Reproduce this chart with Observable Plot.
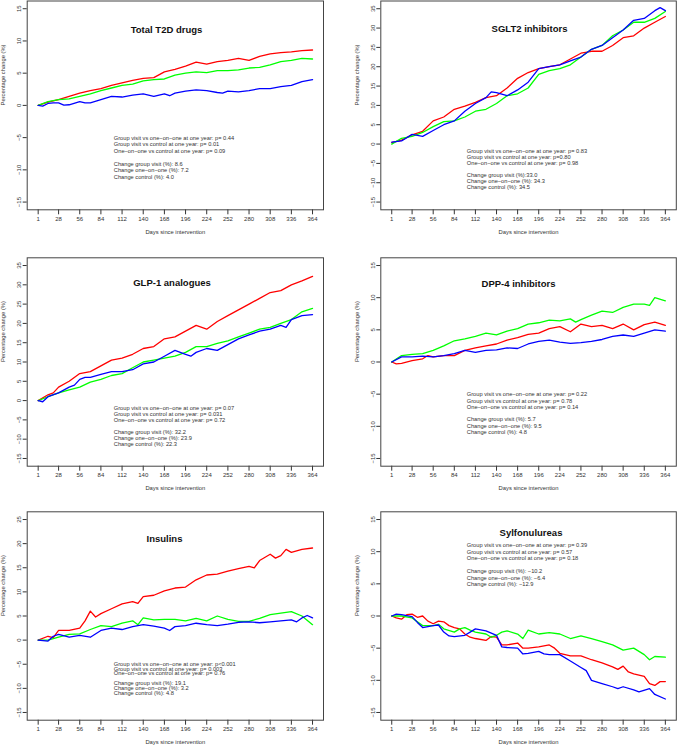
<!DOCTYPE html>
<html><head><meta charset="utf-8">
<script src="https://cdn.jsdelivr.net/npm/d3@7"></script>
<script src="https://cdn.jsdelivr.net/npm/@observablehq/plot@0.6"></script>
<style>
body{margin:0;background:#fff;}
#root{position:relative;width:677px;height:748px;overflow:hidden;background:#fff;font-family:"Liberation Sans",Arial,sans-serif;}
.cell{position:absolute;}
</style></head><body><div id="root"></div>
<script>
const xTicks = [1,28,56,84,112,140,168,196,224,252,280,308,336,364];
const groups = ["Group visit","One-on-one","Control"];
const colors = ["#FF0000","#00FF00","#0000FF"];

// Total T2D drugs
const t2dGroup = [[1,0],[14,0.5],[28,0.9],[42,1.4],[56,1.9],[70,2.3],[84,2.6],[98,3.1],[112,3.5],[126,3.9],[140,4.2],[154,4.3],[168,5.2],[182,5.6],[196,6.1],[210,6.7],[224,6.4],[238,6.8],[252,7.0],[266,7.3],[280,7.0],[294,7.6],[308,8.0],[322,8.2],[336,8.3],[350,8.5],[364,8.6]];
const t2dOne = [[1,0],[14,0.6],[28,0.9],[42,1.0],[56,1.4],[70,1.8],[84,2.3],[98,2.7],[112,3.1],[126,3.3],[140,3.8],[154,4.0],[168,4.1],[182,4.7],[196,5.0],[210,5.2],[224,5.1],[238,5.4],[252,5.4],[266,5.5],[280,5.8],[294,5.9],[308,6.3],[322,6.8],[336,7.0],[350,7.3],[364,7.2]];
const t2dCtrl = [[1,0],[7,-0.1],[14,0.3],[21,0.4],[28,0.4],[35,0.05],[42,0.1],[56,0.6],[63,0.4],[70,0.4],[84,0.9],[98,1.4],[112,1.3],[126,1.6],[140,1.8],[154,1.4],[168,1.8],[175,1.5],[182,1.9],[196,2.2],[210,2.4],[224,2.3],[238,2.0],[245,1.9],[252,2.2],[266,2.1],[280,2.3],[294,2.6],[308,2.6],[322,2.9],[336,3.1],[350,3.7],[364,4.0]];

// SGLT2 inhibitors
const sgltGroup = [[1,0.4],[14,1.0],[28,2.4],[42,3.3],[56,6.0],[70,7.0],[84,9.0],[98,9.8],[112,10.8],[126,12.0],[140,12.5],[154,14.5],[168,17.0],[182,18.5],[196,19.5],[210,20.0],[224,20.5],[238,22.0],[252,23.5],[266,24.0],[280,24.0],[294,25.5],[308,27.5],[322,28.0],[336,30.0],[350,31.5],[364,33.0]];
const sgltOne = [[1,0.0],[14,1.5],[28,2.0],[42,3.0],[56,4.5],[70,5.8],[84,6.0],[98,7.0],[112,8.5],[126,9.0],[140,10.5],[154,12.5],[168,13.0],[182,14.5],[196,18.0],[210,19.0],[224,19.5],[238,20.5],[252,22.5],[266,24.5],[280,25.5],[294,28.0],[308,29.5],[322,31.5],[336,31.5],[350,32.5],[364,34.3]];
const sgltCtrl = [[1,0.5],[14,0.8],[28,2.5],[42,2.0],[56,3.5],[70,5.0],[84,6.0],[98,8.5],[112,10.5],[126,12.0],[133,13.5],[140,13.3],[154,12.5],[168,14.0],[182,16.0],[196,19.5],[210,20.0],[224,20.5],[238,21.5],[252,22.5],[266,24.5],[280,25.5],[294,27.5],[308,29.5],[322,32.0],[336,32.5],[350,34.5],[357,35.3],[364,34.5]];

// GLP-1 analogues
const glpGroup = [[1,0],[14,1.5],[21,2.0],[28,3.5],[42,5.0],[56,7.0],[70,7.5],[84,9.0],[98,10.5],[112,11.0],[126,12.0],[140,13.5],[154,14.0],[168,16.0],[182,16.5],[196,18.0],[210,19.5],[224,18.5],[238,20.5],[252,22.0],[266,23.5],[280,25.0],[294,26.5],[308,28.0],[322,28.5],[336,30.0],[350,31.0],[364,32.2]];
const glpOne = [[1,0],[14,1.0],[28,2.0],[42,2.8],[56,3.5],[70,4.8],[84,5.5],[98,6.5],[112,7.0],[126,8.5],[140,10.0],[154,10.5],[168,11.0],[182,11.5],[196,12.5],[210,14.0],[224,14.0],[238,14.8],[252,15.5],[266,16.5],[280,17.5],[294,18.5],[308,19.0],[322,20.0],[336,21.0],[350,23.0],[364,23.9]];
const glpCtrl = [[1,0],[7,-0.3],[14,1.0],[28,2.0],[42,3.5],[49,4.0],[56,5.5],[63,6.0],[70,6.0],[84,6.8],[98,7.5],[112,7.5],[126,8.0],[140,9.5],[154,10.0],[168,11.5],[182,13.0],[196,12.0],[203,11.5],[210,12.5],[224,13.5],[238,13.0],[252,14.5],[266,16.0],[280,17.0],[294,18.0],[308,18.5],[322,19.5],[329,19.0],[336,21.0],[350,22.0],[364,22.3]];

// DPP-4 inhibitors
const dppGroup = [[1,0],[7,-0.3],[14,-0.2],[28,0.2],[42,0.5],[49,1.0],[56,0.8],[70,1.0],[84,1.0],[98,1.8],[112,2.2],[126,2.5],[140,2.8],[154,3.4],[168,3.8],[182,4.3],[196,4.5],[210,5.2],[224,5.5],[238,4.7],[252,5.9],[266,5.5],[280,5.7],[294,5.2],[308,5.9],[322,5.0],[336,5.8],[350,6.2],[364,5.7]];
const dppOne = [[1,0],[14,1.0],[28,1.2],[42,1.3],[56,1.8],[70,2.5],[84,3.3],[98,3.6],[112,4.0],[126,4.5],[140,4.2],[154,4.8],[168,5.2],[182,5.9],[196,6.1],[210,6.5],[224,6.4],[238,6.7],[245,6.2],[252,6.6],[266,7.3],[280,7.9],[294,7.7],[308,8.5],[322,9.0],[336,9.0],[343,8.8],[350,10.0],[364,9.5]];
const dppCtrl = [[1,0],[14,0.8],[28,0.8],[42,0.9],[56,0.8],[70,1.0],[84,1.3],[98,1.8],[112,1.5],[126,1.8],[140,1.9],[154,2.2],[168,2.1],[182,2.8],[196,3.2],[210,3.4],[224,3.1],[238,2.9],[252,3.0],[266,3.2],[280,3.5],[294,4.0],[308,4.2],[322,4.0],[336,4.5],[350,5.0],[364,4.8]];

// Insulins
const insGroup = [[1,0],[14,0.8],[21,0.5],[28,2.0],[42,2.0],[56,2.5],[63,4.0],[70,6.0],[77,4.8],[84,5.5],[98,6.5],[112,7.5],[126,8.0],[133,7.6],[140,9.0],[154,9.3],[168,10.2],[182,10.8],[196,11.0],[210,12.5],[224,13.5],[238,13.7],[252,14.3],[266,14.8],[280,15.3],[287,15.0],[294,16.5],[308,17.8],[315,17.0],[322,17.5],[329,18.8],[336,18.2],[350,18.8],[364,19.1]];
const insOne = [[1,0],[14,0.0],[28,0.6],[42,1.2],[56,1.3],[70,2.2],[84,3.0],[98,2.8],[112,3.5],[126,4.0],[133,3.2],[140,4.6],[154,4.2],[168,4.3],[182,4.3],[196,4.0],[210,4.5],[224,4.0],[238,5.0],[252,4.3],[266,3.9],[280,3.9],[294,4.5],[308,5.3],[322,5.6],[336,5.9],[350,5.0],[364,3.2]];
const insCtrl = [[1,0],[14,-0.2],[21,0.8],[28,1.2],[42,0.6],[56,1.0],[70,0.6],[84,2.0],[98,2.5],[112,2.2],[126,2.8],[140,3.2],[154,2.9],[168,2.5],[175,2.0],[182,2.8],[196,3.0],[210,3.5],[224,3.2],[238,3.0],[252,3.3],[266,3.7],[280,3.8],[294,3.6],[308,3.8],[322,4.0],[336,4.2],[343,3.8],[350,4.6],[357,5.1],[364,4.6]];

// Sylfonulureas
const sulGroup = [[1,0],[7,-0.3],[14,-0.5],[21,0.2],[28,0.3],[35,-0.2],[42,0.0],[49,-0.8],[56,-1.2],[63,-0.8],[70,-0.9],[77,-1.5],[84,-1.8],[91,-2.0],[98,-2.8],[105,-3.3],[112,-3.5],[126,-3.8],[133,-3.2],[140,-3.3],[147,-4.5],[154,-4.5],[168,-4.2],[175,-5.0],[182,-5.0],[196,-4.8],[210,-4.5],[217,-5.0],[224,-5.8],[238,-6.2],[252,-6.2],[266,-6.8],[280,-7.3],[294,-7.9],[301,-8.3],[308,-7.8],[315,-8.7],[322,-9.0],[336,-9.4],[343,-10.5],[350,-10.8],[357,-10.2],[364,-10.2]];
const sulOne = [[1,0],[14,0.0],[28,-0.3],[42,-1.5],[56,-1.5],[63,-1.3],[70,-2.0],[84,-2.5],[91,-2.0],[98,-1.8],[105,-2.2],[112,-2.5],[126,-2.8],[133,-3.3],[140,-3.0],[147,-2.5],[154,-2.3],[168,-2.8],[175,-3.5],[182,-2.2],[196,-2.8],[210,-2.6],[224,-2.8],[238,-3.5],[252,-3.1],[266,-3.5],[280,-4.0],[294,-4.5],[308,-5.3],[322,-5.0],[329,-5.5],[336,-6.0],[343,-6.8],[350,-6.3],[364,-6.4]];
const sulCtrl = [[1,0],[7,0.3],[14,0.2],[28,-0.1],[35,-1.0],[42,-1.8],[56,-1.5],[63,-1.4],[70,-2.5],[77,-3.1],[84,-3.2],[98,-3.0],[105,-2.5],[112,-2.0],[126,-2.3],[140,-3.0],[147,-4.8],[154,-4.9],[168,-5.0],[175,-5.9],[182,-5.8],[196,-5.5],[203,-5.9],[210,-6.0],[224,-6.0],[238,-7.0],[252,-8.0],[259,-8.5],[266,-10.0],[280,-10.5],[294,-11.0],[301,-11.3],[308,-11.0],[322,-11.5],[329,-11.8],[343,-11.3],[350,-12.2],[364,-12.9]];

const titles = ["Total T2D drugs","SGLT2 inhibitors","GLP-1 analogues","DPP-4 inhibitors","Insulins","Sylfonulureas"];
const pValues = [
  ["p= 0.44","p= 0.01","p= 0.09"],
  ["p= 0.83","p=0.80","p= 0.98"],
  ["p= 0.07","p= 0.031","p= 0.72"],
  ["p= 0.22","p= 0.78","p= 0.14"],
  ["p<0.001","p= 0.003","p= 0.76"],
  ["p= 0.39","p= 0.57","p= 0.18"]
];
const changes = [
  [" 8.6"," 7.2"," 4.0"],
  ["33.0"," 34.3"," 34.5"],
  [" 32.2"," 23.9"," 22.3"],
  [" 5.7"," 9.5"," 4.8"],
  [" 19.1"," 3.2"," 4.8"],
  [" \u221210.2"," \u22126.4"," \u221212.9"]
];
const yLimits = [[-15,15],[-15,35],[-15,35],[-15,15],[-15,25],[-15,15]];
const seriesSets = [
  [t2dGroup,t2dOne,t2dCtrl],[sgltGroup,sgltOne,sgltCtrl],[glpGroup,glpOne,glpCtrl],
  [dppGroup,dppOne,dppCtrl],[insGroup,insOne,insCtrl],[sulGroup,sulOne,sulCtrl]
];

// layout (pixels)
const cells = [
  {left:0,top:0,w:338,h:250,ml:26.7,mr:15,mt:0.5,mb:40.7, tx:139.3,ty:25.3, nx:86.6,ny:136.3,lh:1.14},
  {left:338,top:0,w:339,h:250,ml:42.3,mr:1.2,mt:0.5,mb:40.7, tx:148.7,ty:24.3, nx:86,ny:150.3,lh:1.03},
  {left:0,top:250,w:338,h:250,ml:26.7,mr:15,mt:7.3,mb:34.3, tx:144.8,ty:21.7, nx:86.6,ny:149.4,lh:1.07},
  {left:338,top:250,w:339,h:250,ml:42.3,mr:1.2,mt:7.3,mb:34.3, tx:137.7,ty:22, nx:86,ny:136,lh:1.1},
  {left:0,top:500,w:338,h:248,ml:26.7,mr:15,mt:11.3,mb:28.3, tx:137.3,ty:23.7, nx:86.6,ny:152.7,lh:0.84},
  {left:338,top:500,w:339,h:248,ml:42.3,mr:1.2,mt:11.3,mb:28.3, tx:150.2,ty:17.7, nx:86,ny:33,lh:1.14}
];

const FONT = "'Liberation Sans', Arial, sans-serif";
const NOTE_FS = 5.7;

function panel(i){
  const c = cells[i];
  const rows = [];
  seriesSets[i].forEach((s,k)=> s.forEach(([d,v])=>rows.push({day:d,value:v,group:groups[k]})));
  const [ylo,yhi] = yLimits[i];
  const ext = (yhi-ylo)*0.04, xext = (364-1)*0.04;
  const p = pValues[i], ch = changes[i];
  const notes = [
    "Group visit vs one\u2212on\u2212one at one year: " + p[0],
    "Group visit vs control at one year: " + p[1],
    "One\u2212on\u2212one vs control at one year: " + p[2],
    "",
    "Change group visit (%):" + ch[0],
    "Change one\u2212on\u2212one (%):" + ch[1],
    "Change control (%):" + ch[2]
  ].join("\n");
  return Plot.plot({
    width:c.w, height:c.h,
    marginLeft:c.ml, marginRight:c.mr, marginTop:c.mt, marginBottom:c.mb,
    style:{fontFamily:FONT, color:"#333", background:"transparent", overflow:"visible"},
    x:{domain:[1-xext,364+xext]},
    y:{domain:[ylo-ext,yhi+ext]},
    color:{domain:groups, range:colors},
    marks:[
      Plot.axisX({ticks:xTicks, tickSize:5, tickPadding:2, fontSize:6, label:null, tickFormat:d=>String(d)}),
      Plot.axisY({ticks:d3.range(ylo,yhi+1,5), tickSize:4, tickRotate:-90, tickPadding:2, fontSize:6, label:null}),
      Plot.line(rows,{x:"day", y:"value", stroke:"group", z:"group", strokeWidth:1.3}),
      Plot.frame({stroke:"#444", strokeWidth:1}),
      Plot.text([titles[i]],{frameAnchor:"top-left", dx:c.tx, dy:c.ty, text:d=>d, fontWeight:"bold", fontSize:9.5, textAnchor:"middle", fill:"#111"}),
      Plot.text([notes],{frameAnchor:"top-left", dx:c.nx, dy:c.ny-2, text:d=>d, textAnchor:"start", lineAnchor:"top", fontSize:NOTE_FS, lineHeight:c.lh}),
      Plot.text(["Days since intervention"],{frameAnchor:"bottom", dy:24, text:d=>d, fontSize:5.8}),
      Plot.text(["Percentage change (%)"],{frameAnchor:"left", dx:-24, rotate:-90, text:d=>d, fontSize:5.8})
    ]
  });
}

const root = document.getElementById("root");
cells.forEach((c,i)=>{
  const div = document.createElement("div");
  div.className = "cell";
  div.style.left = c.left + "px";
  div.style.top = c.top + "px";
  div.appendChild(panel(i));
  root.appendChild(div);
});
</script></body></html>
